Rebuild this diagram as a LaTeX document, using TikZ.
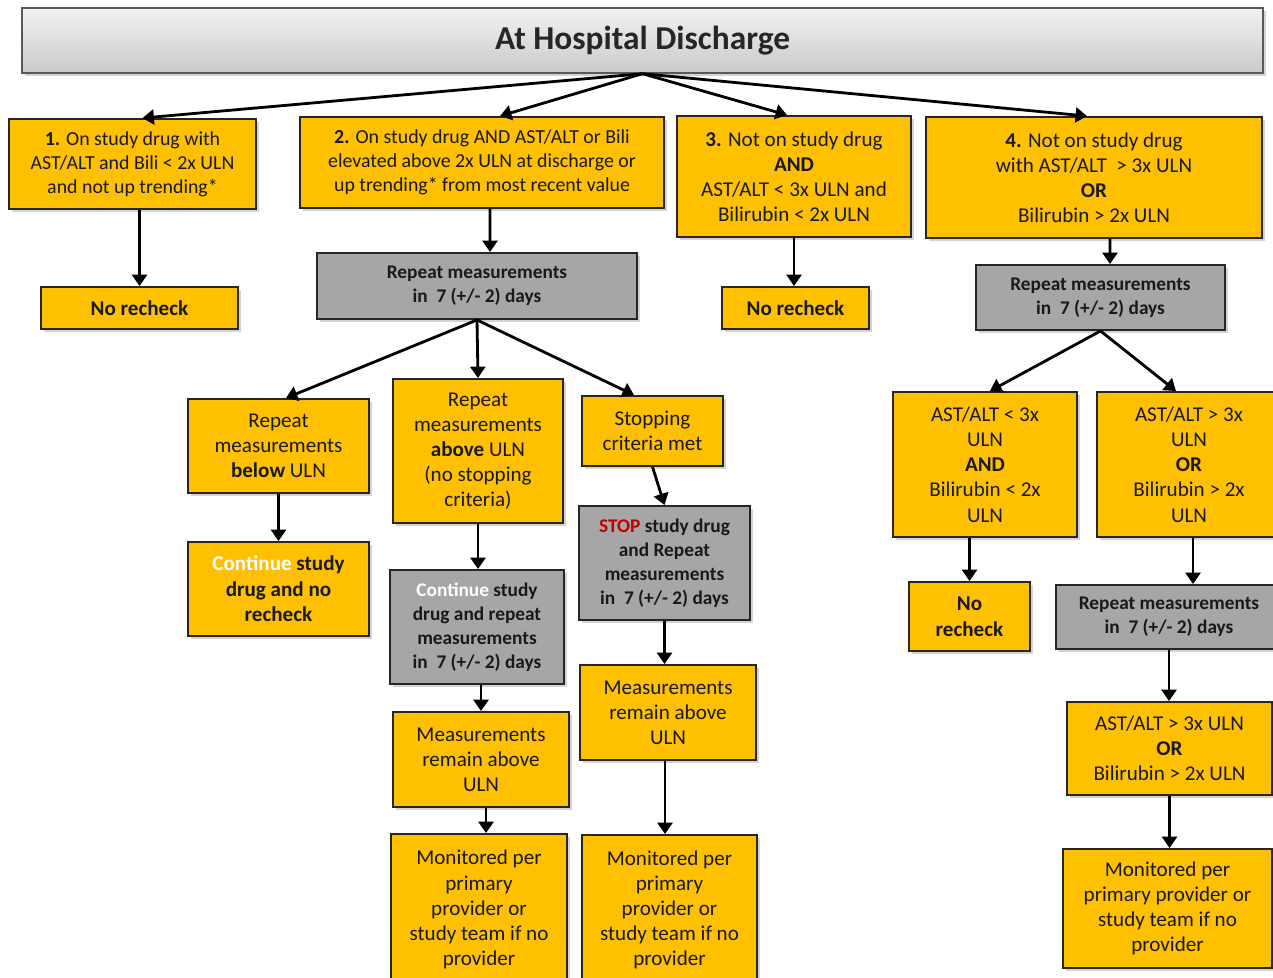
\documentclass[tikz,border=0pt]{standalone}
\usepackage{fontspec}
\setmainfont{Carlito}
\usetikzlibrary{arrows.meta,shadows}
\definecolor{boxgold}{HTML}{FFC000}
\definecolor{boxgray}{HTML}{A6A6A6}
\definecolor{stopred}{HTML}{C00000}

\begin{document}
\begin{tikzpicture}[x=0.02cm, y=-0.02cm, >={Triangle[length=6.5pt,width=8.5pt]},
    box/.style={draw=black!85, line width=1.1pt, fill=boxgold, align=center, inner sep=0pt, text=black!90,
        drop shadow={opacity=0.35, shadow xshift=1.5pt, shadow yshift=-1.5pt}},
    graybox/.style={box, fill=boxgray},
    arr/.style={->, line width=1.6pt},
    toptxt/.style={font=\fontsize{11.3}{13.6}\selectfont},
    maintxt/.style={font=\fontsize{12}{14.3}\selectfont},
    boldtxt/.style={font=\fontsize{12}{14.5}\selectfont\bfseries},
    graytxt/.style={font=\fontsize{11}{13.6}\selectfont\bfseries}]

    \clip (0,0) rectangle (1273,977);

    % Kopf
    \node[draw=gray!70!black, line width=0.8pt, top color=gray!10, bottom color=gray!42, text=black!85,
        minimum width=24.82cm, minimum height=1.3cm, font=\fontsize{19}{22}\selectfont\bfseries,
        drop shadow={opacity=0.35, shadow xshift=1.5pt, shadow yshift=-1.5pt}] (title) at (642.5,40.5) {At Hospital Discharge};

    % vier Ausgangsfaelle
    \node[box, toptxt, minimum width=4.94cm, minimum height=1.8cm] (b1) at (132.5,164)
        {\textbf{1.} On study drug with\\AST/ALT and Bili < 2x ULN\\and not up trending*};
    \node[box, toptxt, minimum width=7.28cm, minimum height=1.82cm] (b2) at (482,162.5)
        {\textbf{2.} On study drug AND AST/ALT or Bili\\elevated above 2x ULN at discharge or\\up trending* from most recent value};
    \node[box, maintxt, minimum width=4.68cm, minimum height=2.42cm] (b3) at (794,176.5)
        {\textbf{3.} Not on study drug\\\textbf{AND}\\AST/ALT < 3x ULN and\\Bilirubin < 2x ULN};
    \node[box, maintxt, minimum width=6.72cm, minimum height=2.42cm] (b4) at (1094,177.5)
        {\textbf{4.} Not on study drug\\with AST/ALT\ \ > 3x ULN\\\textbf{OR}\\Bilirubin > 2x ULN};

    \draw[arr] (title.south) -- ([xshift=0.2cm]b1.north);
    \draw[arr] (title.south) -- ([xshift=0.36cm]b2.north);
    \draw[arr] (title.south) -- ([xshift=-0.14cm]b3.north);
    \draw[arr] (title.south) -- ([xshift=-0.14cm]b4.north);

    % Fall 1 und 3
    \node[box, boldtxt, minimum width=3.94cm, minimum height=0.84cm] (nr1) at (139.5,308) {No recheck};
    \node[box, boldtxt, minimum width=2.94cm, minimum height=0.84cm] (nr3) at (795.5,308) {No recheck};
    \draw[arr] (b1.south -| nr1.north) -- (nr1.north);
    \draw[arr] (b3.south) -- (b3.south |- nr3.north);

    % Fall 2
    \node[graybox, graytxt, minimum width=6.4cm, minimum height=1.32cm] (rep2) at (477,286)
        {Repeat measurements\\in\ \ 7 (+/- 2) days};
    \draw[arr] ([xshift=0.16cm]b2.south) -- ([xshift=0.26cm]rep2.north);

    \node[box, maintxt, minimum width=3.62cm, minimum height=1.88cm] (below) at (278.5,446)
        {Repeat\\measurements\\\textbf{below} ULN};
    \node[box, maintxt, minimum width=3.4cm, minimum height=2.88cm] (above) at (478,451)
        {Repeat\\measurements\\\textbf{above} ULN\\(no stopping\\criteria)};
    \node[box, maintxt, minimum width=2.82cm, minimum height=1.4cm] (stopc) at (652.5,431)
        {Stopping\\criteria met};
    \draw[arr] (rep2.south) -- ([xshift=0.15cm]below.north);
    \draw[arr] (rep2.south) -- (above.north);
    \draw[arr] (rep2.south) -- ([xshift=-0.37cm]stopc.north);

    \node[box, boldtxt, minimum width=3.62cm, minimum height=1.88cm] (cont1) at (278.5,589)
        {\textcolor{white}{Continue} study\\drug and no\\recheck};
    \node[graybox, graytxt, minimum width=3.48cm, minimum height=2.28cm] (cont2) at (477,627)
        {\textcolor{white}{Continue} study\\drug and repeat\\measurements\\in\ \ 7 (+/- 2) days};
    \node[graybox, graytxt, minimum width=3.42cm, minimum height=2.28cm] (stop) at (664.5,563)
        {\textcolor{stopred}{STOP} study drug\\and Repeat\\measurements\\in\ \ 7 (+/- 2) days};
    \draw[arr] (below.south) -- (cont1.north);
    \draw[arr] (above.south) -- (above.south |- cont2.north);
    \draw[arr] (stopc.south) -- (stop.north);

    \node[box, maintxt, minimum width=3.52cm, minimum height=1.9cm] (rem1) at (481,759.5)
        {Measurements\\remain above\\ULN};
    \node[box, maintxt, minimum width=3.52cm, minimum height=1.9cm] (rem2) at (668,712.5)
        {Measurements\\remain above\\ULN};
    \draw[arr] (rem1.north |- cont2.south) -- (rem1.north);
    \draw[arr] (stop.south) -- (stop.south |- rem2.north);

    \node[box, maintxt, minimum width=3.52cm, minimum height=3.02cm] (mon1) at (479,909.5)
        {Monitored per\\primary\\provider or\\study team if no\\provider};
    \node[box, maintxt, minimum width=3.5cm, minimum height=3cm] (mon2) at (669.5,910)
        {Monitored per\\primary\\provider or\\study team if no\\provider};
    \draw[arr] ([xshift=0.1cm]rem1.south) -- ([xshift=0.1cm]rem1.south |- mon1.north);
    \draw[arr] ([xshift=-0.06cm]rem2.south) -- ([xshift=-0.06cm]rem2.south |- mon2.north);

    % Fall 4
    \node[graybox, graytxt, minimum width=4.98cm, minimum height=1.3cm] (rep4) at (1100.5,297.5)
        {Repeat measurements\\in\ \ 7 (+/- 2) days};
    \draw[arr] ([xshift=0.32cm]b4.south) -- ([xshift=0.19cm]rep4.north);

    \node[box, maintxt, minimum width=3.68cm, minimum height=2.9cm] (lowa) at (985,464.5)
        {AST/ALT < 3x\\ULN\\\textbf{AND}\\Bilirubin < 2x\\ULN};
    \node[box, maintxt, minimum width=3.68cm, minimum height=2.9cm] (higha) at (1189,464.5)
        {AST/ALT > 3x\\ULN\\\textbf{OR}\\Bilirubin > 2x\\ULN};
    \draw[arr] (rep4.south) -- ([xshift=0.1cm]lowa.north);
    \draw[arr] (rep4.south) -- ([xshift=-0.26cm]higha.north);

    \node[box, boldtxt, minimum width=2.42cm, minimum height=1.38cm] (nr4) at (969.5,616.5) {No\\recheck};
    \node[graybox, graytxt, minimum width=4.52cm, minimum height=1.28cm] (rep5) at (1169,617)
        {Repeat measurements\\in\ \ 7 (+/- 2) days};
    \draw[arr] (nr4.north |- lowa.south) -- (nr4.north);
    \draw[arr] ([xshift=0.08cm]higha.south) -- ([xshift=0.08cm]higha.south |- rep5.north);

    \node[box, maintxt, minimum width=4.1cm, minimum height=1.86cm] (highb) at (1169.5,748.5)
        {AST/ALT > 3x ULN\\\textbf{OR}\\Bilirubin > 2x ULN};
    \node[box, maintxt, minimum width=4.18cm, minimum height=2.38cm] (mon3) at (1167.5,908.5)
        {Monitored per\\primary provider or\\study team if no\\provider};
    \draw[arr] (rep5.south) -- (rep5.south |- highb.north);
    \draw[arr] (highb.south) -- (highb.south |- mon3.north);
\end{tikzpicture}
\end{document}
